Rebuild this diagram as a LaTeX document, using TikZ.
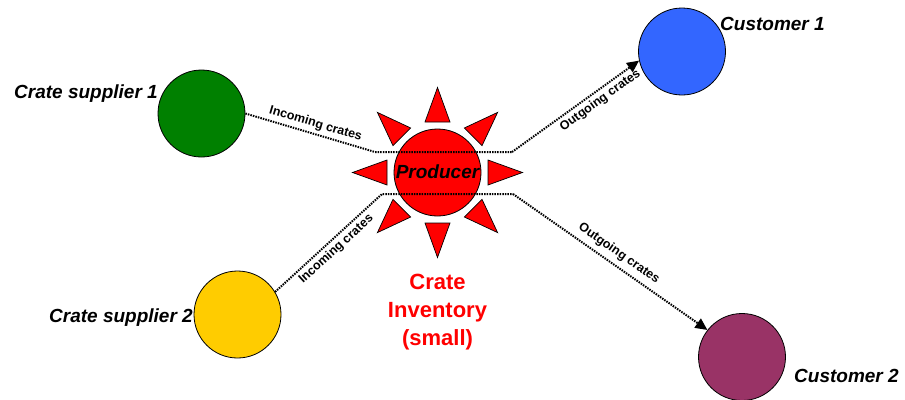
\documentclass[tikz,border=0pt]{standalone}
\usepackage{fontspec}
\setmainfont{Liberation Sans}
\usetikzlibrary{arrows.meta}

\definecolor{supgreen}{RGB}{0,128,0}
\definecolor{supyellow}{RGB}{255,204,0}
\definecolor{custblue}{RGB}{51,102,255}
\definecolor{custplum}{RGB}{153,51,102}
\definecolor{prodred}{RGB}{255,0,0}

\tikzset{
  site/.style={circle, draw=black, line width=0.8pt, minimum size=87pt, inner sep=0pt},
  sunray/.style={fill=prodred, draw=black, line width=0.7pt, line join=miter},
  namelabel/.style={font=\fontsize{19}{22}\selectfont\bfseries\itshape, inner sep=0pt},
  flow/.style={line width=2pt, dash pattern=on 1.5pt off 1.1pt, line join=round},
  flowtip/.style={-{Triangle[length=12pt,width=11pt]}},
  flowlabel/.style={font=\fontsize{12.5}{14}\selectfont\bfseries, sloped, inner sep=3pt},
}

\begin{document}
\begin{tikzpicture}[x=1pt, y=-1pt]
\useasboundingbox (0,0) rectangle (905,399);

% sun rays round the producer
\begin{scope}[shift={(437.5,172.5)}]
  \foreach \a in {0,45,...,315}
    \draw[sunray, rotate=\a] (85,0) -- (50.5,12.5) -- (50.5,-12.5) -- cycle;
\end{scope}

% sites
\node[site, fill=prodred] (prod) at (437.5,172.5) {};
\node[site, fill=supgreen] (s1) at (201.5,113.5) {};
\node[site, fill=supyellow] (s2) at (237.5,314.5) {};
\node[site, fill=custblue] (c1) at (682,51.5) {};
\node[site, fill=custplum] (c2) at (742,357) {};

% names
\node[namelabel, anchor=base east] (s1name) at (158,98) {Crate supplier 1};
\node[namelabel, anchor=base east] (s2name) at (193,322) {Crate supplier 2};
\node[namelabel, anchor=base west] (c1name) at (720,30) {Customer 1};
\node[namelabel, anchor=base west] (c2name) at (794,382) {Customer 2};

% bends of the crate flows
\coordinate (inA) at (375,152);
\coordinate (outA) at (512,152);
\coordinate (inB) at (382,194);
\coordinate (outB) at (513,194);

% crate flows
\draw[flow] (s1.east) -- node[flowlabel, above, pos=0.52] (lbl1) {Incoming crates} (inA) -- (outA);
\draw[flow, flowtip] (outA) -- node[flowlabel, below, pos=0.65] (lbl3) {Outgoing crates} (c1.192);
\draw[flow] (s2.31) -- node[flowlabel, below, pos=0.51] (lbl2) {Incoming crates} (inB) -- (outB);
\draw[flow, flowtip] (outB) -- node[flowlabel, above, pos=0.51, inner sep=5pt] (lbl4) {Outgoing crates} (c2.142);

% producer name
\node[namelabel, anchor=base] (prodname) at (437.5,178) {Producer};

% inventory note
\node[font=\fontsize{22}{28}\selectfont\bfseries, text=prodred, align=center, anchor=north, inner sep=0pt] (inv) at (437.5,274) {Crate\\Inventory\\(small)};
\end{tikzpicture}
\end{document}
